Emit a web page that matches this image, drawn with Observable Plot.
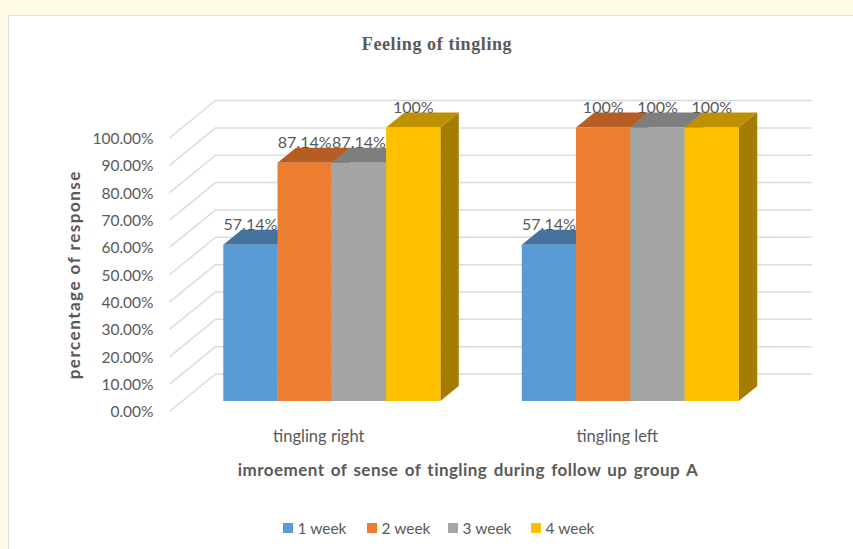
<!DOCTYPE html>
<html>
<head>
<meta charset="utf-8">
<script src="https://cdn.jsdelivr.net/npm/d3@7"></script>
<script src="https://cdn.jsdelivr.net/npm/@observablehq/plot@0.6"></script>
<style>
  html, body { margin: 0; padding: 0; width: 853px; height: 549px; overflow: hidden; background: #fffbe6; }
  #card { position: absolute; left: 8px; top: 15px; width: 860px; height: 560px; background: #fff; border: 1.5px solid #dedede; box-sizing: border-box; }
  #chart { position: absolute; left: 0; top: 0; }
  #chart svg { background: transparent; display: block; }
  #title { position: absolute; left: 0; width: 874px; top: 34px; text-align: center; font: bold 18px "Liberation Serif", serif; letter-spacing: 0.6px; color: #595959; }
  #legend { position: absolute; top: 519px; left: 0; height: 18px; font: 15.5px Lato, sans-serif; color: #595959; width: 853px; }
  #legend span.item { position: absolute; display: flex; align-items: center; gap: 5px; white-space: nowrap; }
  #legend i { display: inline-block; width: 9.5px; height: 9.5px; }
  [aria-label="y-axis label"] text, [aria-label="x-axis label"] text { font-weight: bold; }
  [aria-label="y-axis label"] text { font-size: 17px; letter-spacing: 1.5px; }
  [aria-label="x-axis label"] text { font-size: 17px; word-spacing: 1.8px; letter-spacing: 0.45px; }
  [aria-label="y-axis tick label"] text { font-size: 15.5px; }
  [aria-label="x-axis tick label"] text { font-size: 16.5px; }
</style>
</head>
<body>
<div id="card"></div>
<div id="title">Feeling of tingling</div>
<div id="chart"></div>
<div id="legend"></div>
<script>
const categories = ["tingling right", "tingling left"];
const seriesNames = ["1 week", "2 week", "3 week", "4 week"];
const week1 = [57.14, 57.14];
const week2 = [87.14, 100];
const week3 = [87.14, 100];
const week4 = [100, 100];
const yTicks = [0, 10, 20, 30, 40, 50, 60, 70, 80, 90, 100];

const frontColors = ["#5B9BD5", "#ED7D31", "#A5A5A5", "#FFC000"];
const topColors = ["#44729D", "#B55D23", "#7E7E7E", "#BF9000"];
const sideColors = ["#3A6690", "#A0511E", "#6E6E6E", "#A47C00"];
const legendLeft = [283, 367, 448, 531];

// Excel-like 3-D projection expressed in scale units:
// one x unit = one bar width, category band = 4 bars + 150% gap.
const bandWidth = 5.5, gapHalf = 0.75;
const wallDx = 0.848, wallDy = 13.7;      // floor front to back wall
const barInsetDx = 0.25, barInsetDy = 3.66; // wall front to bar front
const barDepthDx = 0.339, barDepthDy = 5.48;

const allValues = [week1, week2, week3, week4];
const bars = categories.flatMap((c, ci) => allValues.map((vals, si) => {
  const xl = ci * bandWidth + gapHalf + barInsetDx + si;
  return {c, si, v: vals[ci], xl, xr: xl + 1, base: barInsetDy, top: vals[ci] + barInsetDy};
}));

const barMarks = bars.flatMap(b => [
  // top face
  Plot.areaX([
    {y: b.top, x1: b.xl, x2: b.xr},
    {y: b.top + barDepthDy, x1: b.xl + barDepthDx, x2: b.xr + barDepthDx}
  ], {y: "y", x1: "x1", x2: "x2", fill: topColors[b.si]}),
  // side face
  Plot.areaY([
    {x: b.xr, y1: b.base, y2: b.top},
    {x: b.xr + barDepthDx, y1: b.base + barDepthDy, y2: b.top + barDepthDy}
  ], {x: "x", y1: "y1", y2: "y2", fill: sideColors[b.si]}),
  // front face
  Plot.rect([b], {x1: "xl", x2: "xr", y1: "base", y2: "top", fill: frontColors[b.si], inset: 0})
]);

const labelFor = v => v + "%";

const chart = Plot.plot({
  width: 853,
  height: 490,
  marginLeft: 169,
  marginRight: 87,
  marginTop: 137.5,
  marginBottom: 79,
  style: {fontFamily: "Lato, sans-serif", fontSize: "15px", background: "transparent", color: "#595959"},
  x: {domain: [0, 2 * bandWidth]},
  y: {domain: [0, 100]},
  marks: [
    Plot.ruleY(yTicks, {y: d => d + wallDy, x1: wallDx, x2: 2 * bandWidth + wallDx, stroke: "#dcdcdc", strokeWidth: 1.5}),
    Plot.link(yTicks, {x1: 0, y1: d => d, x2: wallDx, y2: d => d + wallDy, stroke: "#dcdcdc", strokeWidth: 1.5}),
    ...barMarks,
    Plot.text(bars, {
      x: d => (d.xl + d.xr) / 2,
      y: "top",
      text: d => labelFor(d.v),
      dy: -20,
      dx: -0.5,
      fill: "#595959",
      fontSize: 16
    }),
    Plot.axisY(yTicks, {
      anchor: "left",
      tickSize: 0,
      tickPadding: 16,
      dy: 1,
      tickFormat: d => d.toFixed(2) + "%",
      label: "percentage of response",
      labelAnchor: "center",
      labelArrow: "none",
      labelOffset: 102,
      fill: "#595959"
    }),
    Plot.axisX(categories.map((c, i) => (i + 0.5) * bandWidth), {
      anchor: "bottom",
      tickSize: 0,
      tickPadding: 19,
      tickFormat: d => categories[Math.floor(d / bandWidth)],
      label: "imroement of sense of tingling during follow up group A",
      labelAnchor: "center",
      labelArrow: "none",
      labelOffset: 64,
      fill: "#595959"
    })
  ]
});
document.getElementById("chart").appendChild(chart);

const legend = document.getElementById("legend");
seriesNames.forEach((s, i) => {
  const item = document.createElement("span");
  item.className = "item";
  item.style.left = legendLeft[i] + "px";
  const sw = document.createElement("i");
  sw.style.background = frontColors[i];
  item.appendChild(sw);
  item.appendChild(document.createTextNode(s));
  legend.appendChild(item);
});
</script>
</body>
</html>
